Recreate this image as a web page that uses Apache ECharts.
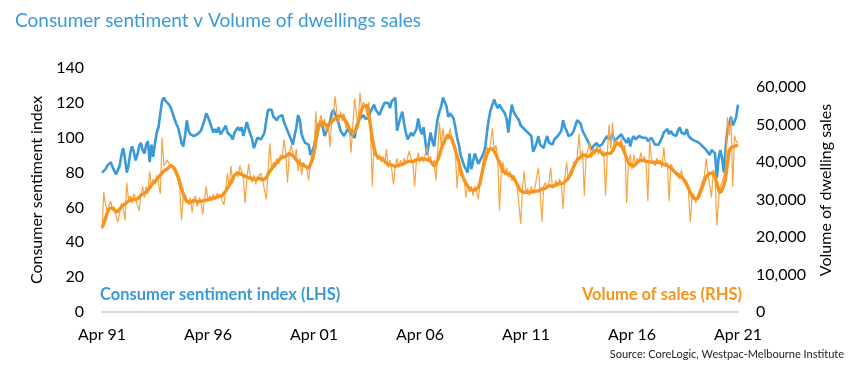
<!DOCTYPE html>
<html>
<head>
<meta charset="utf-8">
<script src="https://cdn.jsdelivr.net/npm/echarts@6/dist/echarts.min.js"></script>
<style>
html,body{margin:0;padding:0;background:#fff;}
#chart{width:863px;height:374px;}
</style>
</head>
<body>
<div id="chart"></div>
<script>
// Monthly, Apr 1991 .. Apr 2021
const startYear = 1991;
const startMonth = 3; // April (0 = Jan)
const monthNames = ['Jan','Feb','Mar','Apr','May','Jun','Jul','Aug','Sep','Oct','Nov','Dec'];
const tickLabels = ['Apr 91','Apr 96','Apr 01','Apr 06','Apr 11','Apr 16','Apr 21'];

// Westpac-MI consumer sentiment index (LHS)
const sentiment = [
80,79,82,84,85,86,83,81,79,78,84,90,
94,88,80,84,91,95,92,87,90,95,97,93,
91,96,98,86,96,89,97,103,106,114,121,123,
121,122,119,117,114,111,108,106,102,97,95,101,
110,104,102,101,101,100,102,102,104,105,110,114,
112,109,106,103,105,103,106,102,103,105,107,103,
104,101,99,103,102,106,104,106,101,105,109,105,
104,99,94,97,100,99,99,101,103,110,116,117,
116,112,113,110,112,111,113,109,109,104,104,99,
96,101,106,113,110,102,99,97,98,96,90,91,
95,101,107,108,109,106,101,100,106,109,114,116,
115,111,108,104,104,101,102,105,106,102,103,100,
107,108,111,110,113,111,112,111,115,116,119,116,
117,113,114,118,120,119,120,117,121,120,123,104,
108,112,115,108,103,99,100,103,101,101,105,111,
105,102,106,107,90,97,103,98,95,104,111,115,
118,123,122,118,112,114,115,111,106,100,96,90,
87,84,82,80,91,82,86,91,88,85,87,88,
91,95,104,111,116,119,122,119,117,119,117,116,
114,111,103,112,119,115,113,112,110,107,106,105,
106,103,104,101,92,94,97,101,96,97,94,98,
101,97,97,96,99,98,101,100,104,110,106,104,
101,100,102,104,107,110,109,108,104,102,100,98,
96,93,95,96,97,95,95,96,98,99,101,99,
98,102,98,97,100,99,102,100,99,97,100,95,
99,101,99,98,101,102,100,101,100,98,99,100,
100,96,97,96,98,100,103,102,105,102,104,102,
103,101,104,106,103,104,102,105,101,102,99,100,
98,99,97,98,95,96,93,94,90,93,92,91,
77,88,93,88,80,94,105,108,112,107,109,112,
119
];

// Volume of dwelling sales, monthly ('000) (RHS)
const salesMonthly = [
22.0,32.0,28.5,27.0,28.5,29.5,27.0,28.0,25.5,24.0,26.5,29.0,
27.5,24.5,34.5,30.0,31.0,29.0,31.5,30.5,28.5,27.0,31.0,33.5,
30.5,33.5,31.5,37.5,33.0,35.5,34.0,36.5,37.0,31.5,46.5,39.0,
38.5,40.5,39.5,40.0,38.5,39.0,36.5,35.5,33.0,24.5,30.5,31.5,
30.0,28.5,30.5,26.5,30.0,31.0,28.0,30.5,29.5,26.0,30.0,33.5,
29.5,31.0,29.5,31.5,30.0,31.5,32.0,31.0,30.5,28.5,32.5,37.0,
33.0,39.0,34.5,36.0,37.5,36.0,39.0,37.5,36.0,29.0,35.5,39.5,
36.0,34.5,36.5,34.0,36.0,35.5,37.0,35.0,34.5,30.0,37.5,45.0,
37.5,40.0,38.5,41.0,39.5,42.0,41.0,46.0,42.5,34.5,42.0,44.5,
44.5,40.5,43.5,37.5,41.0,36.5,40.0,39.5,38.0,35.0,40.0,42.5,
41.5,53.5,47.0,50.5,52.5,49.5,51.5,48.0,50.5,44.0,51.0,53.0,
57.5,52.5,50.5,53.5,51.0,53.0,49.0,51.0,48.5,42.5,50.0,57.0,
53.0,49.5,58.5,54.0,56.0,55.0,52.0,56.0,48.0,33.5,45.5,43.0,
40.5,42.0,40.0,41.5,39.5,43.5,38.5,40.5,38.0,34.0,39.0,41.0,
38.5,40.5,39.0,41.0,39.5,40.0,43.0,40.5,39.5,33.5,40.5,42.5,
40.0,41.5,40.0,42.0,44.0,40.5,41.5,39.0,40.5,35.0,42.5,50.5,
44.5,49.0,44.5,47.5,46.0,49.0,46.5,45.0,42.5,33.0,40.0,36.5,
36.0,35.5,30.5,34.0,32.0,33.5,31.0,33.5,32.5,30.0,34.5,38.0,
41.0,42.5,44.0,42.5,45.5,49.0,43.0,44.5,41.0,27.0,37.5,40.0,
36.5,38.5,36.0,37.5,35.0,36.5,35.5,33.5,34.0,23.5,33.0,37.5,
31.5,33.0,31.0,33.5,31.5,33.0,32.5,38.5,32.0,24.0,33.5,34.5,
33.0,34.5,38.5,33.0,34.0,35.0,33.5,35.5,34.0,27.5,36.0,40.0,
35.0,37.5,36.5,40.0,39.0,41.5,47.5,41.0,43.0,31.0,41.5,43.0,
45.5,41.0,43.5,42.0,44.5,42.0,44.0,41.5,43.0,31.0,42.0,50.0,
43.5,50.5,43.0,46.0,45.5,44.0,46.5,43.0,44.5,29.0,40.0,42.0,
38.0,42.0,39.0,41.0,40.0,42.5,40.0,41.5,39.5,29.5,46.0,41.0,
40.5,39.0,41.0,39.5,40.5,38.5,44.0,39.0,40.0,29.5,39.5,38.5,
38.0,36.5,37.0,35.5,38.0,35.0,34.0,35.0,32.0,24.0,30.5,31.5,
29.0,31.0,30.5,33.5,33.0,36.5,41.0,37.0,37.5,30.5,38.0,36.5,
23.0,30.0,33.5,34.5,35.0,38.0,52.0,47.0,51.5,33.5,47.0,45.5,
45.0
];

// Volume of dwelling sales, smoothed trend ('000) (RHS)
const salesTrend = [
22.5,23.5,25.0,26.5,27.5,28.0,27.8,27.2,26.6,26.4,27.3,28.1,
28.5,28.8,29.3,29.6,29.9,30.1,30.3,30.0,29.9,30.5,31.2,31.4,
31.6,32.1,32.5,33.2,33.9,34.4,34.8,35.4,35.9,36.5,37.0,37.6,
37.9,38.2,38.6,39.1,39.0,38.3,37.3,36.1,34.6,33.0,31.5,30.3,
29.5,29.0,29.2,29.5,29.8,29.6,29.4,29.4,29.5,29.6,29.8,29.8,
29.9,30.1,30.3,30.3,30.4,30.6,30.8,30.8,31.1,31.5,32.2,33.0,
33.8,34.5,35.5,36.5,37.0,37.1,37.0,36.7,36.5,36.2,36.0,35.8,
35.7,35.6,35.5,35.3,35.4,35.7,35.5,35.2,35.3,35.8,36.8,37.5,
38.2,38.8,39.4,39.9,40.4,40.9,41.3,41.4,41.5,41.9,42.3,42.1,
41.7,41.2,40.6,39.9,39.5,39.3,39.1,38.9,38.6,38.3,38.8,40.5,
42.5,45.5,48.0,49.8,50.8,50.6,50.2,49.6,49.6,50.2,50.8,51.3,
51.6,52.0,52.3,52.5,52.2,51.6,50.8,49.9,49.0,48.2,47.8,48.0,
48.8,50.5,52.5,54.0,54.8,55.1,55.2,53.0,49.5,46.0,43.5,42.0,
41.3,41.0,41.0,40.6,40.2,39.7,39.3,39.2,39.2,39.0,38.8,39.0,
39.2,39.2,39.3,39.5,39.9,40.4,40.2,40.1,40.1,40.1,40.6,41.0,
40.8,40.5,40.8,41.0,40.7,40.5,40.2,39.8,38.9,39.5,40.5,41.8,
43.4,44.8,45.8,46.6,47.2,46.9,46.2,44.8,43.3,41.6,39.9,37.9,
36.4,35.2,34.3,33.5,33.0,32.6,32.5,32.5,32.6,33.2,34.5,36.8,
39.0,40.8,42.2,43.3,43.8,43.6,43.2,42.0,40.8,39.8,38.7,37.5,
37.2,37.0,36.8,36.5,36.1,35.7,34.9,34.0,33.0,32.3,31.8,31.9,
32.1,31.9,31.7,32.0,32.5,32.2,32.1,32.3,32.5,32.8,33.0,33.0,
33.2,33.7,33.9,33.5,33.6,33.9,34.1,34.3,34.3,34.3,34.8,35.2,
35.8,36.5,37.6,38.8,39.8,40.6,41.1,41.4,41.7,41.9,41.6,41.4,
41.8,42.0,42.6,43.0,43.2,43.0,42.8,42.3,41.9,42.1,42.3,42.0,
42.3,43.0,44.0,44.8,45.1,45.0,44.3,43.5,42.2,41.0,39.8,39.2,
38.9,38.9,39.4,39.9,40.4,40.5,40.5,40.3,40.1,40.1,40.1,40.0,
40.1,39.8,39.7,40.0,39.9,39.6,39.4,39.2,39.0,38.8,38.4,37.9,
37.4,37.0,36.7,36.4,36.0,35.6,34.8,34.0,32.9,31.9,30.9,30.3,
29.9,30.2,31.0,32.3,33.6,35.0,36.1,36.6,37.0,37.1,37.0,36.0,
34.5,32.5,31.8,32.8,33.6,35.8,39.5,43.0,43.8,44.0,44.2,44.4,
44.5
];

const categories = [];
for (let i = 0; i < sentiment.length; i++) {
  const t = startMonth + i;
  const y = startYear + Math.floor(t / 12);
  categories.push(monthNames[t % 12] + ' ' + String(y % 100).padStart(2, '0'));
}

const FONT = 'Lato, "Open Sans", sans-serif';
const BLUE = '#3A9AD8';
const ORANGE = '#F7941D';

const chart = echarts.init(document.getElementById('chart'), null, {renderer: 'canvas'});
chart.setOption({
  animation: false,
  backgroundColor: '#ffffff',
  textStyle: {fontFamily: FONT},
  title: {
    text: 'Consumer sentiment v Volume of dwellings sales',
    left: 10, top: 6,
    textStyle: {color: BLUE, fontSize: 19, fontWeight: 'normal', fontFamily: FONT}
  },
  grid: {left: 102, right: 125, top: 68, bottom: 62},
  xAxis: {
    type: 'category',
    data: categories,
    boundaryGap: false,
    axisLine: {show: true, lineStyle: {color: '#D9D9D9', width: 2}},
    axisTick: {show: false},
    axisLabel: {
      interval: 59,
      color: '#000', fontSize: 16, fontFamily: FONT, margin: 15,
      formatter: v => tickLabels.includes(v) ? v : ''
    },
    splitLine: {show: false}
  },
  yAxis: [
    {
      type: 'value', min: 0, max: 140, interval: 20,
      name: 'Consumer sentiment index',
      nameLocation: 'middle', nameRotate: 90, nameGap: 52,
      nameTextStyle: {color: '#000', fontSize: 16, fontFamily: FONT},
      axisLine: {show: false}, axisTick: {show: false},
      axisLabel: {color: '#000', fontSize: 16, fontFamily: FONT, margin: 18},
      splitLine: {show: false}
    },
    {
      type: 'value', min: 0, max: 60 * 244 / 225, interval: 10,
      name: 'Volume of dwelling sales',
      nameLocation: 'middle', nameRotate: 90, nameGap: 80,
      nameTextStyle: {color: '#000', fontSize: 16, fontFamily: FONT},
      axisLine: {show: false}, axisTick: {show: false},
      axisLabel: {
        color: '#000', fontSize: 16, fontFamily: FONT, margin: 18,
        formatter: v => (Math.abs(v - Math.round(v / 10) * 10) < 1e-6 && v <= 60.0001)
          ? (Math.round(v) * 1000).toLocaleString('en-US') : ''
      },
      splitLine: {show: false}
    }
  ],
  series: [
    {
      name: 'Consumer sentiment index (LHS)', type: 'line', yAxisIndex: 0,
      data: sentiment, showSymbol: false, symbol: 'none',
      lineStyle: {color: BLUE, width: 2.6}, z: 2
    },
    {
      name: 'Volume of sales monthly', type: 'line', yAxisIndex: 1,
      data: salesMonthly, showSymbol: false, symbol: 'none',
      lineStyle: {color: '#F8A445', width: 1.2}, z: 3
    },
    {
      name: 'Volume of sales (RHS)', type: 'line', yAxisIndex: 1,
      data: salesTrend, showSymbol: false, symbol: 'none',
      lineStyle: {color: ORANGE, width: 3.4}, z: 4
    }
  ],
  graphic: [
    {
      type: 'text', left: 100, top: 286,
      style: {text: 'Consumer sentiment index (LHS)', fill: BLUE, font: 'bold 16.5px ' + FONT}
    },
    {
      type: 'text', right: 121, top: 286,
      style: {text: 'Volume of sales (RHS)', fill: ORANGE, font: 'bold 16.5px ' + FONT}
    },
    {
      type: 'text', right: 19, top: 349,
      style: {text: 'Source: CoreLogic, Westpac-Melbourne Institute', fill: '#222', font: '11px ' + FONT}
    }
  ]
});
</script>
</body>
</html>
